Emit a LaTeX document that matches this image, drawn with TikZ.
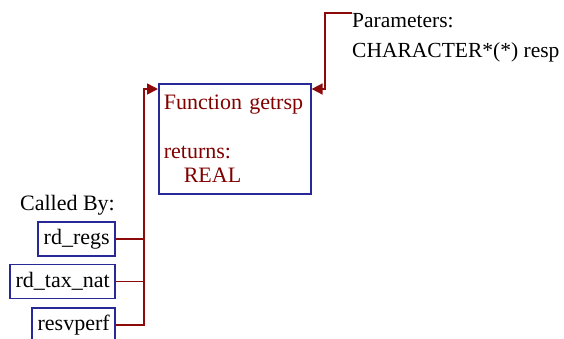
\documentclass[tikz,border=0pt]{standalone}
\usepackage{fontspec}
\setmainfont{Liberation Serif}
\usetikzlibrary{arrows.meta}
\definecolor{lnred}{RGB}{140,10,10}
\definecolor{txred}{RGB}{128,0,0}
\definecolor{bxblue}{RGB}{40,40,150}
\begin{document}
\begin{tikzpicture}[x=1pt,y=-1pt,
  every node/.style={font=\fontsize{22}{24.5}\selectfont, inner sep=0pt},
  caller/.style={draw=bxblue, line width=1.6pt, minimum height=34pt, inner xsep=5.5pt, anchor=east},
  fnbox/.style={draw=bxblue, line width=1.6pt, text=txred, align=left, text width=142pt,
    inner xsep=5pt, minimum height=110pt, anchor=north west},
  link/.style={draw=lnred, line width=1.6pt},
  tip/.style={-{Triangle[length=11pt,width=11pt]}}]
\useasboundingbox (0,0) rectangle (564,338);

\node[fnbox] (fn) at (158,83) {Function getrsp\\[24.5pt]returns:\\\hspace*{20pt}REAL};

\node[anchor=base east] (calledby) at (115,210) {Called By:};
\node[caller] (rdregs) at (116,239) {rd\_regs};
\node[caller] (rdtax) at (116,281.5) {rd\_tax\_nat};
\node[caller] (resvperf) at (116,325) {resvperf};

\node[anchor=base west, font=\fontsize{21.5}{24}\selectfont] (param) at (352,27) {Parameters:};
\node[anchor=base west, font=\fontsize{21.5}{24}\selectfont] (chr) at (352,57) {CHARACTER*(*) resp};

\coordinate (jt) at (144,89);
\draw[link,tip] (resvperf.east) -| (jt) -- (fn.west |- jt);
\draw[link] (rdregs.east) -- (rdregs.east -| jt);
\draw[link] (rdtax.east) -- (rdtax.east -| jt);

\coordinate (pin) at ([yshift=14pt]param.base west);
\coordinate (jr) at (325,89);
\draw[link,tip] (pin) -| (jr) -- (fn.east |- jr);
\end{tikzpicture}
\end{document}
